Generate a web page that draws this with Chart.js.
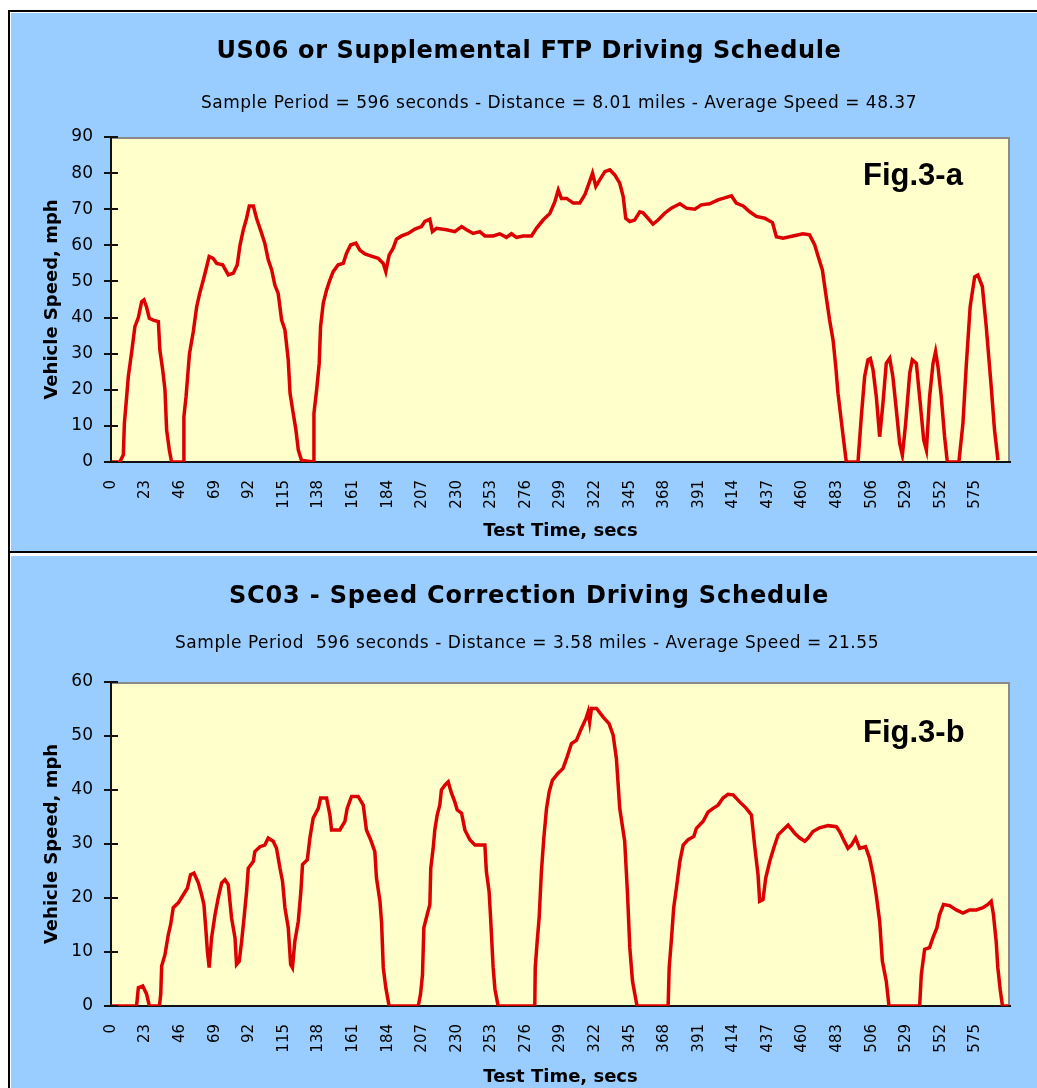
<!DOCTYPE html>
<html>
<head>
<meta charset="utf-8">
<script src="https://cdn.jsdelivr.net/npm/chart.js@4.4.0/dist/chart.umd.min.js"></script>
<style>
  body { margin: 0; background: #fff; width: 1037px; height: 1088px; overflow: hidden; position: relative; }
  .rule { position: absolute; background: #000; }
  .panel { position: absolute; left: 11px; width: 1026px; background: #99ccff; }
  .panel canvas { display: block; }
</style>
</head>
<body>
<div class="rule" style="left:8px;top:10px;width:1029px;height:2px"></div>
<div class="rule" style="left:8px;top:10px;width:2px;height:1078px"></div>
<div class="panel" style="top:13px;height:538px"><canvas id="us06" width="1026" height="538"></canvas></div>
<div class="rule" style="left:8px;top:551px;width:1029px;height:2px"></div>
<div class="panel" style="top:556px;height:532px"><canvas id="sc03" width="1026" height="532"></canvas></div>
<script>
// tick labels on the time axis (every 23 s)
const timeTicks = [0, 23, 46, 69, 92, 115, 138, 161, 184, 207, 230, 253, 276, 299,
  322, 345, 368, 391, 414, 437, 460, 483, 506, 529, 552, 575];

// US06 schedule (secs, mph)
const us06Time = [0, 5.9, 8.2, 8.9, 10.4, 11.5, 13.8, 15.9, 18.2, 20.4, 21.9, 23.6, 25.5, 28.1,
  31.5, 32.5, 34.4, 35.9, 37, 38.8, 40.3, 48.1, 48.5, 49.9, 52.2, 54.7, 57, 59, 61.4, 63.6,
  65.3, 67.9, 70.3, 74.3, 78, 81.4, 84, 85.8, 88, 90.2, 92, 94.7, 96.8, 100.2, 102.3, 104.6,
  106.9, 109, 111.2, 113.5, 115.7, 117.9, 119.1, 121.2, 123, 124.6, 126.7, 134.5, 135, 136.8,
  138.5, 139.4, 141.2, 143.4, 145.6, 147.8, 151.1, 154.5, 156.7, 159.4, 162.9, 165.5, 168.9,
  173.2, 177.7, 181.1, 182.8, 185, 187.7, 189.9, 193.3, 197.7, 202.1, 206.5, 208.8, 212.1,
  213.8, 216.5, 223.2, 228.7, 233.2, 236.5, 240.9, 245.3, 248.7, 254.2, 258.6, 263, 266.4,
  269.7, 274.1, 279.7, 283, 287.4, 291.9, 295.2, 297.5, 299.6, 303.1, 307.5, 311.8, 315.2,
  318, 320.3, 322.5, 325.1, 328.5, 331.8, 335.1, 338.4, 340.7, 342.4, 345.1, 348.3, 351.7,
  353.9, 357.2, 360.5, 363.9, 368.3, 372.7, 378.4, 382.8, 388.3, 392.7, 398.2, 403.8, 407.1,
  412.7, 415.9, 420.5, 424.9, 429.3, 434.8, 440, 442.6, 447, 453.6, 460.3, 464.7, 468.1,
  470.4, 473.2, 475.4, 478, 480.3, 482.1, 483.6, 486.5, 489.1, 496.9, 499.1, 501.3, 503.5,
  505.1, 506.9, 509.1, 511.3, 513.5, 515.7, 518, 520.1, 522.4, 524.6, 526.4, 528.6, 531.3,
  533, 535.7, 537.9, 540.6, 542.4, 544.5, 546.8, 548.5, 550.1, 552.3, 554.5, 556.3, 564,
  566.7, 569, 571.5, 574.5, 576.6, 579.6, 582.2, 585.5, 587.7, 590];
const us06Speed = [0, 0, 2, 10.7, 18, 23.6, 30.6, 37.5, 40, 44.4, 44.9, 43, 39.8, 39.3,
  38.9, 31, 25.5, 20, 8.9, 3.3, 0, 0, 12.6, 18, 30, 36, 43, 46.7, 50.4, 54,
  56.9, 56.4, 55, 54.6, 51.8, 52.3, 54.6, 60, 64.3, 67.5, 70.9, 70.9, 67.5, 63.3, 60.6, 56,
  53.2, 49, 46.7, 39.3, 36.6, 28.3, 19, 13.5, 8.9, 3.3, 0.5, 0, 13.5, 20,
  27.3, 37.5, 44, 47.6, 50.4, 52.7, 54.6, 55, 57.8, 60.1, 60.6, 58.7, 57.6,
  57, 56.4, 55, 52.7, 57.3, 59.2, 61.7, 62.6, 63.3, 64.5, 65.2, 66.6, 67.2,
  63.8, 64.7, 64.3, 63.8, 65.2, 64.3, 63.3, 63.8, 62.6, 62.6, 63.2, 62.2, 63.2,
  62.2, 62.6, 62.6, 64.7, 67, 68.8, 72, 75.3, 73, 73, 71.7, 71.7, 74,
  77.2, 80, 76.3, 78.1, 80.4, 80.9, 79.5, 77.2, 73.5, 67.5, 66.6, 67, 69.3,
  69, 67.5, 65.9, 67, 68.9, 70.3, 71.5, 70.3, 70, 71.2, 71.5, 72.6, 73,
  73.7, 71.7, 70.9, 69.3, 68, 67.5, 66.3, 62.4, 62, 62.6, 63.2, 62.9, 60.1,
  56.9, 53.2, 46.7, 39.3, 33.8, 26.4, 19, 8.9, 0, 0, 12.6, 23.6, 28.3,
  28.7, 25.5, 18, 7, 16.3, 27.3, 28.7, 23.6, 14.4, 5.2, 1.9, 10.7, 24.6,
  28.3, 27.3, 18, 6.1, 3.3, 18, 27.3, 30.6, 26.4, 18, 7, 0, 0,
  10.7, 27.3, 43, 51.3, 51.8, 48.6, 37.5, 20.9, 8.9, 0.5];

// SC03 schedule (secs, mph)
const sc03Time = [0, 17, 18.2, 21.1, 23.7, 25.5, 32.2, 33.1, 33.7, 35.9, 38.1, 39.7, 41.4,
  44.8, 48.1, 50.8, 52.9, 55.2, 58.1, 60.3, 61.8, 63.2, 64.1, 65.3, 66.9, 69.2, 71.3, 73.6,
  75.8, 78, 80.2, 82.5, 83.5, 85.3, 86.9, 88.5, 90.2, 91.3, 94.7, 95.7, 99.1, 102.3, 104.6,
  107.9, 110.1, 112.4, 114.1, 115.7, 117.9, 119.5, 120.7, 122.3, 124.6, 126.3, 127.4, 130.6,
  132.3, 134.5, 137.9, 139.4, 143.4, 145.6, 146.7, 152.2, 155.6, 157.1, 160, 164.4, 167.8,
  169.9, 172.7, 175.5, 176.6, 178.9, 180, 181.1, 182.8, 185, 204.4, 205.9, 207.2, 208.1,
  210.3, 212.1, 212.7, 214.3, 215.4, 217, 218.7, 219.8, 222.1, 224.3, 226.5, 228.7, 230.3,
  233.2, 235.4, 238.7, 242.1, 248.7, 249.7, 251.5, 252.4, 254.2, 255.4, 257.5, 281.9, 282.2,
  283.5, 284.8, 286.3, 287.9, 289.7, 291.5, 293.6, 297.4, 300.7, 303, 306.3, 309.6, 312.9,
  315.9, 317.4, 318.4, 319.6, 323, 327.4, 331.3, 334, 336.2, 338.4, 341.7, 343.5, 345.1,
  346.9, 349.9, 370.6, 371.3, 372.7, 374.3, 376.1, 378.4, 380.6, 383.9, 387.7, 389.4, 393.9,
  397.1, 400.5, 403.8, 407.1, 410.4, 413.8, 418.2, 422.6, 426, 428.1, 430.4, 431.5, 433.7,
  435.5, 438.2, 440.8, 443.8, 447, 450.4, 454.8, 458.2, 461.5, 463.7, 466.9, 471.3, 477,
  482.5, 484.7, 486.9, 490.2, 492.5, 495.3, 498, 501.9, 504.6, 506.9, 509, 511.3, 513.1,
  515.7, 517.5, 537.9, 539, 541.2, 544.5, 546.7, 549.4, 551.1, 553.8, 557.8, 562.3, 566.7,
  571.1, 575.6, 580, 583.3, 585.5, 587, 588.8, 589.9, 591.5, 593, 597];
const sc03Speed = [0, 0, 3.4, 3.7, 2.2, 0, 0, 2.2, 7.4, 9.5, 13.2, 15.1, 18.2,
  19.1, 20.6, 21.8, 24.3, 24.6, 22.8, 20.6, 18.8, 13.8, 10.2, 7.1, 12.6, 16.9, 20, 22.8,
  23.4, 22.5, 16.3, 12.6, 7.7, 8.3, 12, 16.3, 21.2, 25.5, 26.8, 28.6, 29.5, 29.8, 31.1,
  30.5, 29.2, 25.5, 23.1, 18.2, 14.5, 7.7, 7.1, 12, 15.7, 21.2, 26.2, 27.1,
  31.1, 34.8, 36.6, 38.5, 38.5, 35.4, 32.6, 32.6, 34.2, 36.6, 38.8, 38.8, 37.2,
  32.6, 30.8, 28.6, 23.7, 19.4, 15.4, 7.1, 3.4, 0, 0, 2.2, 5.8, 14.5,
  16.9, 18.8, 25.5, 29.2, 32.6, 35.4, 37.2, 40, 40.9, 41.5, 39.4, 37.8, 36.3,
  35.7, 32.6, 30.8, 29.8, 29.8, 24.9, 21.2, 16.9, 7.1, 3.1, 0, 0, 7.1,
  12, 16.3, 24.9, 31.1, 36.6, 39.7, 41.8, 43.1, 44, 45.8, 48.6, 49.2, 51.4,
  53.2, 54.5, 52.6, 55.1, 55.1, 53.5, 52.3, 50.2, 45.8, 36.6, 30.5, 21.2, 10.8,
  4.6, 0, 0, 7.1, 12, 18.2, 21.8, 26.8, 29.8, 30.8, 31.4, 32.9, 34.2,
  35.9, 36.6, 37.2, 38.5, 39.2, 39.1, 37.8, 36.6, 35.4, 29.8, 24.3, 19.4, 19.7,
  23.7, 26.8, 29.2, 31.7, 32.6, 33.5, 32, 31.1, 30.5, 31.1, 32.3, 33, 33.4,
  33.2, 32.3, 31, 29.2, 29.8, 31.1, 29.2, 29.5, 27.4, 24.3, 20.6, 15.7, 8.3,
  4.6, 0, 0, 5.8, 10.5, 10.8, 12.6, 14.5, 16.9, 18.8, 18.6, 17.8, 17.2,
  17.8, 17.8, 18.2, 18.8, 19.4, 16.9, 12, 7.1, 3, 0, 0];

function fitText(ctx, text, cx, y, font, width) {
  ctx.font = font;
  ctx.letterSpacing = '0px';
  const w = ctx.measureText(text).width;
  ctx.letterSpacing = ((width - w) / text.length) + 'px';
  ctx.fillText(text, cx, y);
  ctx.letterSpacing = '0px';
}

const panelDecor = {
  id: 'panelDecor',
  beforeDraw(chart) {
    const {ctx, chartArea: a} = chart;
    ctx.save();
    ctx.fillStyle = '#ffffcc';
    ctx.fillRect(a.left, a.top, a.right - a.left, a.bottom - a.top);
    ctx.strokeStyle = '#8a8a8a';
    ctx.lineWidth = 2;
    ctx.beginPath();
    ctx.moveTo(a.left, a.top + 1);
    ctx.lineTo(a.right - 1, a.top + 1);
    ctx.lineTo(a.right - 1, a.bottom);
    ctx.stroke();
    ctx.restore();
  },
  afterDraw(chart, args, opts) {
    const {ctx, chartArea: a} = chart;
    const y = chart.scales.y;
    ctx.save();
    // inner half of the ticks that cross the value axis
    ctx.strokeStyle = '#111';
    ctx.lineWidth = 2;
    y.ticks.forEach(t => {
      const py = Math.round(y.getPixelForValue(t.value));
      ctx.beginPath();
      ctx.moveTo(a.left, py);
      ctx.lineTo(a.left + 7, py);
      ctx.stroke();
    });
    ctx.fillStyle = '#000';
    ctx.textAlign = 'center';
    ctx.textBaseline = 'alphabetic';
    fitText(ctx, opts.title, opts.titleX, opts.titleY, 'bold 24px "DejaVu Sans"', opts.titleW);
    fitText(ctx, opts.subtitle, opts.subX, opts.subY, '17px "DejaVu Sans"', opts.subW);
    ctx.textAlign = 'left';
    ctx.font = 'bold 31px "Liberation Sans"';
    ctx.fillText(opts.fig, opts.figX, opts.figY);
    ctx.restore();
  }
};

function driveChart(id, time, speed, yMax, xBoxH, xTitlePad, text) {
  return new Chart(document.getElementById(id), {
    type: 'line',
    data: {
      datasets: [{
        data: time.map((t, i) => ({x: t, y: speed[i]})),
        borderColor: '#dd0000',
        borderWidth: 3.5,
        pointRadius: 0,
        tension: 0,
        fill: false
      }]
    },
    options: {
      responsive: false,
      animation: false,
      layout: {padding: {top: text.top, right: 27, left: 0, bottom: 0}},
      plugins: {
        legend: {display: false},
        tooltip: {enabled: false},
        panelDecor: text
      },
      scales: {
        x: {
          type: 'linear',
          min: 0,
          max: 598,
          afterBuildTicks: s => { s.ticks = timeTicks.map(v => ({value: v})); },
          afterFit: s => { s.height = xBoxH; },
          grid: {drawOnChartArea: false, drawTicks: false},
          border: {color: '#111', width: 2},
          ticks: {
            autoSkip: false, minRotation: 90, maxRotation: 90, padding: 18,
            color: '#000', font: {family: 'DejaVu Sans', size: 15}
          },
          title: {
            display: true, text: 'Test Time, secs', color: '#000',
            font: {family: 'DejaVu Sans', size: 18, weight: 'bold'},
            padding: {top: 0, bottom: xTitlePad}
          }
        },
        y: {
          min: 0,
          max: yMax,
          afterFit: s => { s.width = 100; },
          grid: {drawOnChartArea: false, drawTicks: true, tickLength: 7, color: '#111', lineWidth: 2},
          border: {color: '#111', width: 2},
          ticks: {
            stepSize: 10, padding: 11, color: '#000',
            font: {family: 'DejaVu Sans', size: 17}
          },
          title: {
            display: true, text: 'Vehicle Speed, mph', color: '#000',
            font: {family: 'DejaVu Sans', size: 18, weight: 'bold'},
            padding: {top: 31, bottom: 0}
          }
        }
      }
    },
    plugins: [panelDecor]
  });
}

driveChart('us06', us06Time, us06Speed, 90, 89, 9, {
  top: 124,
  title: 'US06 or Supplemental FTP Driving Schedule', titleX: 518, titleY: 45, titleW: 625,
  subtitle: 'Sample Period = 596 seconds - Distance = 8.01 miles - Average Speed = 48.37',
  subX: 548, subY: 95, subW: 716,
  fig: 'Fig.3-a', figX: 852, figY: 172
});

driveChart('sc03', sc03Time, sc03Speed, 60, 82, 0, {
  top: 126,
  title: 'SC03 - Speed Correction Driving Schedule', titleX: 518, titleY: 47, titleW: 600,
  subtitle: 'Sample Period  596 seconds - Distance = 3.58 miles - Average Speed = 21.55',
  subX: 516, subY: 92, subW: 704,
  fig: 'Fig.3-b', figX: 852, figY: 186
});
</script>
</body>
</html>
